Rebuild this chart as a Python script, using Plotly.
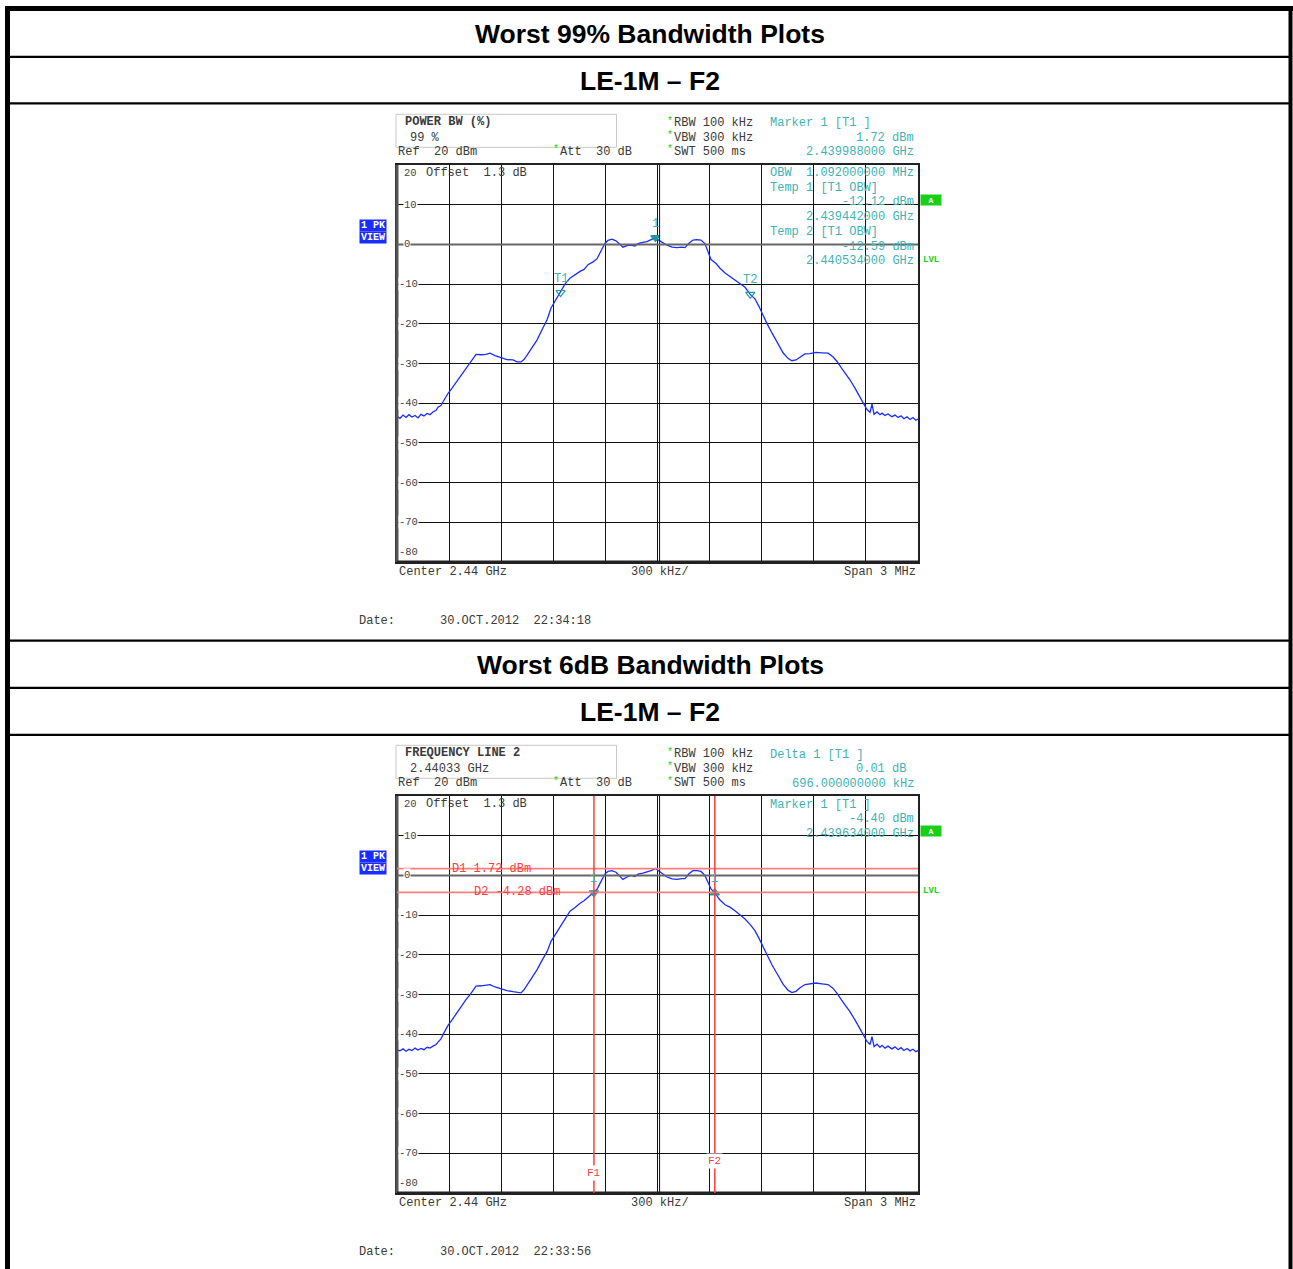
import plotly.graph_objects as go

W, H = 1293, 1269

# ---- spectrum trace, screen 1 (99 % occupied bandwidth) ----
# frequency offset from 2.44 GHz centre, kHz
freq1_khz = [-1500, -1483, -1465, -1448, -1431, -1414, -1396, -1379, -1362, -1345,
             -1327, -1310, -1293, -1275, -1264, -1247, -1229, -1206, -1183, -1160,
             -1126, -1103, -1080, -1062, -1045, -1016, -988, -964, -936, -901,
             -867, -832, -809, -786, -769, -751, -723, -694, -665, -636,
             -613, -590, -558, -533, -504, -475, -446, -423, -400, -371,
             -348, -325, -302, -285, -262, -239, -216, -199, -176, -153,
             -130, -112, -84, -61, -37, -12, 9, 32, 55, 84,
             112, 141, 158, 181, 204, 227, 250, 273, 291, 308,
             337, 360, 389, 417, 446, 475, 504, 534, 561, 584,
             602, 630, 659, 688, 723, 751, 774, 797, 821, 849,
             878, 913, 947, 982, 1010, 1034, 1068, 1108, 1137, 1166,
             1189, 1206, 1224, 1235, 1247, 1264, 1281, 1293, 1310, 1327,
             1350, 1368, 1385, 1402, 1419, 1437, 1454, 1471, 1488, 1500]
level1_dbm = [-43.3, -43.8, -43.0, -43.6, -42.9, -43.5, -43.1, -43.7, -42.8, -43.2,
              -42.6, -42.9, -42.2, -41.8, -41.0, -40.6, -39.2, -37.5, -36.2, -34.8,
              -32.5, -31.3, -30.0, -28.8, -27.7, -27.8, -27.7, -27.4, -28.0, -28.5,
              -29.0, -29.1, -29.6, -29.6, -29.0, -27.9, -26.0, -24.1, -21.5, -19.0,
              -16.0, -14.3, -12.12, -10.0, -8.5, -7.6, -6.8, -6.3, -5.1, -4.4,
              -3.6, -1.6, 0.3, 1.0, 1.3, 0.9, 0.0, -0.7, -0.3, -0.2,
              -0.4, 0.2, 0.5, 0.7, 1.2, 1.72, 1.0, 0.3, -0.2, -0.7,
              -0.8, -0.7, -0.8, 0.3, 1.1, 1.2, 1.1, 0.2, -2.0, -3.8,
              -4.8, -6.0, -7.2, -8.1, -8.9, -9.8, -10.8, -12.59, -13.7, -15.6,
              -17.4, -19.9, -22.3, -24.5, -27.3, -28.7, -29.3, -29.1, -28.4, -27.6,
              -27.5, -27.2, -27.3, -27.4, -28.3, -29.5, -31.7, -34.1, -36.2, -38.4,
              -40.4, -41.6, -42.3, -40.2, -42.8, -42.2, -42.9, -42.5, -43.1, -42.7,
              -43.4, -43.0, -43.6, -43.2, -43.9, -43.4, -44.1, -43.6, -44.3, -44.0]

# ---- spectrum trace, screen 2 (6 dB bandwidth) ----
freq2_khz = [-1500, -1483, -1465, -1448, -1431, -1414, -1396, -1379, -1362, -1345,
             -1327, -1310, -1293, -1275, -1264, -1247, -1229, -1206, -1183, -1160,
             -1126, -1103, -1080, -1062, -1045, -1016, -988, -964, -936, -901,
             -867, -832, -809, -786, -769, -751, -723, -694, -665, -636,
             -613, -590, -558, -533, -504, -475, -446, -423, -400, -366,
             -348, -325, -302, -285, -262, -239, -216, -199, -176, -153,
             -130, -112, -84, -61, -37, -12, 9, 32, 55, 84,
             112, 141, 158, 181, 204, 227, 250, 273, 291, 308,
             330, 360, 389, 417, 446, 475, 504, 534, 561, 584,
             602, 630, 659, 688, 723, 751, 774, 797, 821, 849,
             878, 913, 947, 982, 1010, 1034, 1068, 1108, 1137, 1166,
             1189, 1206, 1224, 1235, 1247, 1264, 1281, 1293, 1310, 1327,
             1350, 1368, 1385, 1402, 1419, 1437, 1454, 1471, 1488, 1500]
level2_dbm = [-43.9, -44.2, -43.7, -44.3, -43.8, -44.1, -43.5, -44.0, -43.6, -43.9,
              -43.3, -43.5, -43.0, -42.6, -42.0, -41.2, -39.6, -37.8, -36.4, -34.9,
              -32.6, -31.3, -30.1, -28.9, -27.9, -27.8, -27.7, -27.5, -28.1, -28.6,
              -29.0, -29.3, -29.5, -29.6, -28.8, -27.6, -25.8, -23.8, -21.4, -19.2,
              -16.6, -15.0, -12.6, -10.9, -9.0, -8.1, -7.0, -6.4, -5.5, -4.40,
              -3.5, -1.5, 0.4, 1.0, 1.2, 0.8, -0.1, -1.0, -0.4, 0.0,
              -0.3, 0.3, 0.6, 0.8, 1.2, 1.72, 1.0, 0.2, -0.4, -0.9,
              -1.0, -0.8, -0.8, 0.4, 1.2, 1.2, 1.0, 0.0, -1.8, -3.4,
              -4.39, -6.2, -7.4, -8.0, -8.9, -10.0, -11.0, -12.4, -13.9, -15.8,
              -17.5, -20.0, -22.5, -24.7, -27.4, -28.9, -29.5, -29.2, -28.3, -27.5,
              -27.4, -27.1, -27.3, -27.5, -28.4, -29.7, -31.9, -34.3, -36.4, -38.6,
              -40.5, -41.8, -42.6, -40.6, -43.1, -42.5, -43.3, -42.8, -43.5, -43.0,
              -43.7, -43.2, -43.9, -43.4, -44.1, -43.6, -44.2, -43.8, -44.4, -44.1]

# ---- markers and display lines ----
mk1_khz, mk1_dbm = -12, 1.72          # Marker 1 [T1], screen 1
obw_t1_khz, obw_t1_dbm = -558, -12.12  # Temp 1
obw_t2_khz, obw_t2_dbm = 534, -12.59   # Temp 2
mk2_khz, mk2_dbm = -366, -4.40         # Marker 1 [T1], screen 2
delta_khz, delta_db = 696, 0.01        # Delta 1 [T1]
d1_dbm, d2_dbm = 1.72, -4.28           # display lines D1 / D2
f1_khz, f2_khz = -366, 330             # frequency lines F1 / F2

y_ticks = [20, 10, 0, -10, -20, -30, -40, -50, -60, -70, -80]

MONO = "Liberation Mono, Courier New, monospace"
SANS = "Liberation Sans, Arial, sans-serif"
INK = "#3a3a3a"
TEAL = "#3fb2b2"
MARK = "#1f9a9a"
RED = "#ff3c3c"
SALMON = "#ff7d7d"
BLUE = "#1a2dff"
GREEN = "#19d019"

fig = go.Figure()
ann = []
shapes = []


def px(x):
    return x / W


def py(y):
    return 1 - y / H


def txt(s, x, y, color=INK, anchor="left", size=12, bold=False, family=MONO, bg=None):
    if bold:
        s = "<b>" + s + "</b>"
    d = dict(text=s, x=px(x), y=py(y), xref="paper", yref="paper",
             xanchor=anchor, yanchor="middle", showarrow=False,
             font=dict(family=family, size=size, color=color), borderpad=0)
    if bg:
        d["bgcolor"] = bg
    ann.append(d)


def hline(y, x0, x1, w, color="black"):
    shapes.append(dict(type="line", xref="paper", yref="paper",
                       x0=px(x0), x1=px(x1), y0=py(y), y1=py(y),
                       line=dict(color=color, width=w)))


def vline(x, y0, y1, w, color="black"):
    shapes.append(dict(type="line", xref="paper", yref="paper",
                       x0=px(x), x1=px(x), y0=py(y0), y1=py(y1),
                       line=dict(color=color, width=w)))


# ---- table frame ----
hline(8.5, 5, 1293, 5)
vline(7.5, 6, 1269, 5)
vline(1290.5, 6, 1269, 4)
for yy in (56.8, 103.3, 640.7, 687.8, 734.8):
    hline(yy, 10, 1289, 2.2)

txt("Worst 99% Bandwidth Plots", 650, 34, "black", "center", 26.5, True, SANS)
txt("LE-1M \u2013 F2", 650, 81, "black", "center", 26.5, True, SANS)
txt("Worst 6dB Bandwidth Plots", 650, 665, "black", "center", 26.5, True, SANS)
txt("LE-1M \u2013 F2", 650, 712, "black", "center", 26.5, True, SANS)

# ---- analyzer screens ----
screens = [
    dict(top=165, bottom=562, off=0, xa="x", ya="y", f=freq1_khz, l=level1_dbm),
    dict(top=796, bottom=1193, off=631, xa="x2", ya="y2", f=freq2_khz, l=level2_dbm),
]

for i, sc in enumerate(screens):
    o = sc["off"]
    fig.add_trace(go.Scatter(x=sc["f"], y=sc["l"], mode="lines", xaxis=sc["xa"], yaxis=sc["ya"],
                             line=dict(color=BLUE, width=1.3), hoverinfo="skip", showlegend=False))
    ax_common = dict(showticklabels=False, ticks="", zeroline=False, showline=True, mirror=True,
                     linecolor="#222", linewidth=2, gridcolor="#111", gridwidth=1, fixedrange=True)
    fig.layout["xaxis" + ("" if i == 0 else "2")] = dict(
        domain=[px(397), px(918)], range=[-1500, 1500], tick0=-1500, dtick=300,
        anchor=sc["ya"], **ax_common)
    fig.layout["yaxis" + ("" if i == 0 else "2")] = dict(
        domain=[py(sc["bottom"]), py(sc["top"])], range=[-80, 20], tick0=-80, dtick=10,
        anchor=sc["xa"], **ax_common)

    # heavier left / bottom frame and doubled centre line
    shapes.append(dict(type="line", xref=sc["xa"] + " domain", yref=sc["ya"] + " domain",
                       x0=0, x1=0, y0=0, y1=1, line=dict(color="#555", width=3)))
    shapes.append(dict(type="line", xref=sc["xa"] + " domain", yref=sc["ya"] + " domain",
                       x0=0, x1=1, y0=0, y1=0, line=dict(color="#222", width=3)))
    shapes.append(dict(type="line", xref=sc["xa"], yref=sc["ya"] + " domain",
                       x0=12, x1=12, y0=0, y1=1, line=dict(color="#111", width=1)))
    shapes.append(dict(type="line", xref=sc["xa"] + " domain", yref=sc["ya"],
                       x0=0, x1=1, y0=0, y1=0, line=dict(color="#666", width=2)))

    # level scale labels inside the grid
    for v in y_ticks:
        yy = sc["top"] + (20 - v) / 100 * (sc["bottom"] - sc["top"])
        if v == 20:
            yy += 8
        if v == -80:
            yy -= 10
        lab = str(v)
        txt(lab, 397.5 if v < 0 else 402.5, yy, "#444", "left", 10.5,
            bg="white" if v not in (20, -80) else None)

    txt("Offset  1.3 dB", 425, 173 + o, INK)
    txt("Ref  20 dBm", 397, 152 + o, INK)
    txt("*", 552, 150 + o, GREEN, "left", 10)
    txt("Att  30 dB", 559, 152 + o, INK)
    for j, s in enumerate(["RBW 100 kHz", "VBW 300 kHz", "SWT 500 ms"]):
        txt("*", 666, 121 + o + 14.5 * j, GREEN, "left", 10)
        txt(s, 672.5, 123 + o + 14.5 * j, INK)

    shapes.append(dict(type="rect", xref="paper", yref="paper",
                       x0=px(396), x1=px(616.5), y0=py(147.3 + o), y1=py(114.3 + o),
                       line=dict(color="#c8c8c8", width=1)))

    # trace info boxes
    txt("1 PK", 373, 225 + o, "white", "center", 10, True, bg=BLUE)
    txt("VIEW", 373, 237.5 + o, "white", "center", 10, True, bg=BLUE)
    ann[-2].update(width=26, height=11)
    ann[-1].update(width=26, height=11)
    txt("A", 931, 200 + o, "white", "center", 8, True, bg=GREEN)
    ann[-1].update(width=20, height=10)
    txt("LVL", 921.5, 260 + o, GREEN, "left", 9, True)

    txt("Center 2.44 GHz", 398, 572 + o, INK)
    txt("300 kHz/", 630, 572 + o, INK)
    txt("Span 3 MHz", 917, 572 + o, INK, "right")
    txt("Date:", 358, 621 + o, INK, "left", 12)

# ---- screen 1 annotations ----
txt("POWER BW (%)", 404, 122, INK, bold=True)
txt("99 %", 408.5, 138, INK)
txt("Marker 1 [T1 ]", 768.5, 123, TEAL)
txt(f"{mk1_dbm:.2f} dBm", 914.5, 138, TEAL, "right")
txt("2.439988000 GHz", 914.5, 152, TEAL, "right")
txt("OBW  1.092000000 MHz", 768.5, 173, TEAL)
txt("Temp 1 [T1 OBW]", 768.5, 188, TEAL)
txt(f"{obw_t1_dbm:.2f} dBm", 914.5, 202, TEAL, "right")
txt("2.439442000 GHz", 914.5, 217, TEAL, "right")
txt("Temp 2 [T1 OBW]", 768.5, 232, TEAL)
txt(f"{obw_t2_dbm:.2f} dBm", 914.5, 246.5, TEAL, "right")
txt("2.440534000 GHz", 914.5, 261, TEAL, "right")
txt("30.OCT.2012  22:34:18", 439, 621, INK, "left", 12)


def marker(xk, yv, xa, ya, symbol, label, lab_dy):
    fig.add_trace(go.Scatter(x=[xk], y=[yv], mode="markers", xaxis=xa, yaxis=ya,
                             marker=dict(symbol=symbol, size=8, color=MARK,
                                         line=dict(color=MARK, width=1.2)),
                             hoverinfo="skip", showlegend=False))
    ann.append(dict(text=label, x=xk, y=yv, xref=xa, yref=ya, xanchor="center", yanchor="bottom",
                    yshift=lab_dy, showarrow=False, font=dict(family=MONO, size=12, color=TEAL)))


marker(mk1_khz, mk1_dbm, "x", "y", "triangle-down", "1", 5)
marker(obw_t1_khz, obw_t1_dbm, "x", "y", "triangle-down-open", "T1", 5)
marker(obw_t2_khz, obw_t2_dbm, "x", "y", "triangle-down-open", "T2", 5)

# ---- screen 2 annotations ----
txt("FREQUENCY LINE 2", 404, 753, INK, bold=True)
txt("2.44033 GHz", 409, 769, INK)
txt("Delta 1 [T1 ]", 768.5, 755, TEAL)
txt(f"{delta_db:.2f} dB", 906.7, 769, TEAL, "right")
txt(f"{delta_khz:.9f} kHz", 914.5, 784, TEAL, "right")
txt("Marker 1 [T1 ]", 768.5, 805, TEAL)
txt(f"{mk2_dbm:.2f} dBm", 914.5, 819, TEAL, "right")
txt("2.439634000 GHz", 914.5, 834, TEAL, "right")
txt("30.OCT.2012  22:33:56", 439, 1252, INK, "left", 12)

for yv, c in ((d1_dbm, SALMON), (d2_dbm, SALMON)):
    shapes.append(dict(type="line", xref="x2 domain", yref="y2", x0=0, x1=1, y0=yv, y1=yv,
                       line=dict(color=c, width=1.8)))
for xv in (f1_khz, f2_khz):
    shapes.append(dict(type="line", xref="x2", yref="y2 domain", x0=xv, x1=xv, y0=0, y1=1,
                       line=dict(color=RED, width=1.5)))

ann.append(dict(text=f"D1 {d1_dbm:.2f} dBm", x=-1195, y=d1_dbm, xref="x2", yref="y2",
                xanchor="left", yanchor="middle", showarrow=False,
                font=dict(family=MONO, size=12, color=RED)))
ann.append(dict(text=f"D2 {d2_dbm:.2f} dBm", x=-1070, y=d2_dbm, xref="x2", yref="y2",
                xanchor="left", yanchor="middle", showarrow=False,
                font=dict(family=MONO, size=12, color=RED)))
ann.append(dict(text="F1", x=f1_khz, y=-75, xref="x2", yref="y2", xanchor="center", yanchor="middle",
                showarrow=False, bgcolor="white", font=dict(family=MONO, size=11, color=RED)))
ann.append(dict(text="F2", x=f2_khz, y=-72, xref="x2", yref="y2", xanchor="center", yanchor="middle",
                showarrow=False, bgcolor="white", font=dict(family=MONO, size=11, color=RED)))

marker(mk2_khz, mk2_dbm, "x2", "y2", "triangle-down", "1", 5)
marker(f2_khz, mk2_dbm + delta_db, "x2", "y2", "triangle-up", "1", 5)

fig.update_layout(width=W, height=H, margin=dict(l=0, r=0, t=0, b=0), autosize=False,
                  paper_bgcolor="white", plot_bgcolor="white",
                  annotations=ann, shapes=shapes, showlegend=False)

fig.write_html("out.html", config={"displayModeBar": False, "staticPlot": True})
